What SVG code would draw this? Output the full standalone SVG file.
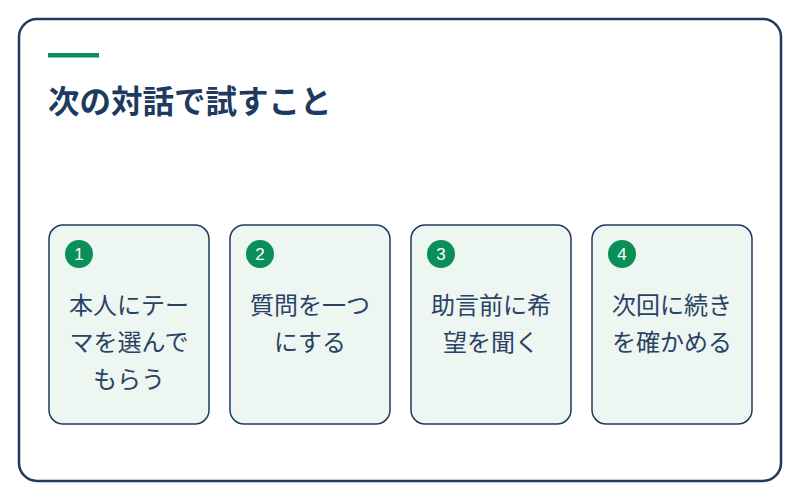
<svg xmlns="http://www.w3.org/2000/svg" width="800" height="500" viewBox="0 0 800 500">
<style>
.frame{fill:#fff;stroke:#1f3a5f;stroke-width:2.5}
.card{fill:#eef6f1;stroke:#1f3a5f;stroke-width:1.5}
.badge{fill:#0a8f5a}
.num{fill:#fff;font-family:"Liberation Sans","Noto Sans",sans-serif;font-size:17px;text-anchor:middle}
.title{fill:#1f3a5f;font-family:"Noto Sans CJK JP",sans-serif;font-size:31.5px;font-weight:bold}
.lbl{fill:#2a4266;font-family:"Noto Sans CJK JP",sans-serif;font-size:24px;text-anchor:middle}
</style>
<rect class="frame" x="19" y="19" width="762" height="462" rx="18"/>
<rect x="48" y="53" width="51" height="4.5" fill="#0a8f5a"/>
<text class="title" x="48" y="113">次の対話で試すこと</text>
<g id="connectors"/>
<g id="n1">
<rect class="card" x="49" y="225" width="160" height="199" rx="14"/>
<circle class="badge" cx="79" cy="254" r="14"/>
<text class="num" x="79" y="260">1</text>
<text class="lbl" x="129" y="314">本人にテー</text>
<text class="lbl" x="129" y="351">マを選んで</text>
<text class="lbl" x="129" y="388">もらう</text>
</g>
<g id="n2">
<rect class="card" x="230" y="225" width="160" height="199" rx="14"/>
<circle class="badge" cx="260" cy="254" r="14"/>
<text class="num" x="260" y="260">2</text>
<text class="lbl" x="310" y="314">質問を一つ</text>
<text class="lbl" x="310" y="351">にする</text>
</g>
<g id="n3">
<rect class="card" x="411" y="225" width="160" height="199" rx="14"/>
<circle class="badge" cx="441" cy="254" r="14"/>
<text class="num" x="441" y="260">3</text>
<text class="lbl" x="491" y="314">助言前に希</text>
<text class="lbl" x="491" y="351">望を聞く</text>
</g>
<g id="n4">
<rect class="card" x="592" y="225" width="160" height="199" rx="14"/>
<circle class="badge" cx="622" cy="254" r="14"/>
<text class="num" x="622" y="260">4</text>
<text class="lbl" x="672" y="314">次回に続き</text>
<text class="lbl" x="672" y="351">を確かめる</text>
</g>
</svg>
